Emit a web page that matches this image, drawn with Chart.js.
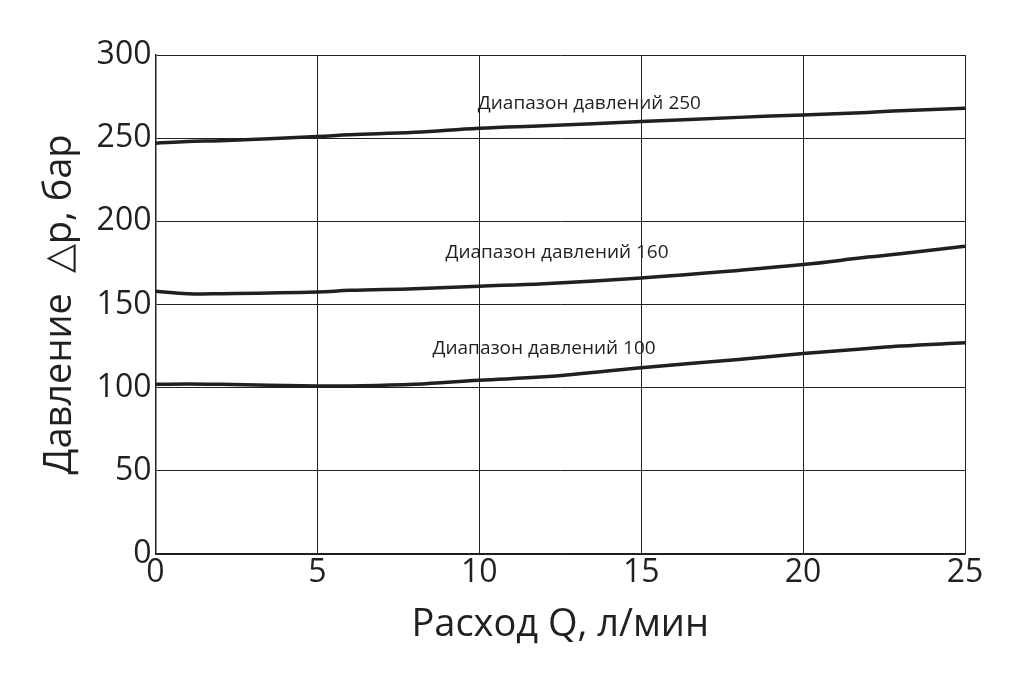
<!DOCTYPE html>
<html><head><meta charset="utf-8">
<script src="https://cdn.jsdelivr.net/npm/chart.js@4/dist/chart.umd.min.js"></script>
<style>html,body{margin:0;background:#fff}#wrap{width:1023px;height:682px}</style>
</head><body><div id="wrap"><canvas id="c"></canvas></div>
<script>
// values
var flowQ = [0, 1, 2, 5, 6, 8, 10, 12, 15, 18, 20, 22, 23, 25];
var range250 = [247, 248, 248.5, 251, 252, 253.5, 256, 257.5, 260, 262.5, 264, 265.5, 266.5, 268];
var range160 = [158, 156.5, 156.5, 157.5, 158.5, 159.5, 161, 162.5, 166, 170.5, 174, 178.5, 180.5, 185];
var range100 = [102, 102.2, 102, 101, 101, 102, 104.5, 106.5, 112, 117, 120.5, 123.5, 125, 127];
var curveLabels = ['Диапазон давлений 250', 'Диапазон давлений 160', 'Диапазон давлений 100'];
var labelPos = [[13.4, 271], [12.4, 181], [12.0, 123.5]];

var ink = '#231f20';
var mk = function (ys) { return ys.map(function (y, i) { return {x: flowQ[i], y: y}; }); };
var ds = function (ys) {
  return {data: mk(ys), borderColor: ink, borderWidth: 3.5, pointRadius: 0, tension: 0.4, fill: false};
};

var labelPlugin = {
  id: 'curveLabels',
  afterDatasetsDraw: function (chart) {
    var ctx = chart.ctx, sx = chart.scales.x, sy = chart.scales.y;
    ctx.save();
    ctx.fillStyle = ink;
    ctx.font = '19px "Open Sans"';
    ctx.textAlign = 'center';
    ctx.textBaseline = 'middle';
    curveLabels.forEach(function (t, i) {
      ctx.fillText(t, sx.getPixelForValue(labelPos[i][0]), sy.getPixelForValue(labelPos[i][1]));
    });
    ctx.restore();
  }
};

new Chart(document.getElementById('c'), {
  type: 'line',
  data: {datasets: [ds(range250), ds(range160), ds(range100)]},
  options: {
    responsive: true, maintainAspectRatio: false, animation: false,
    layout: {padding: {top: 55, right: 58, left: 33, bottom: 30}},
    plugins: {legend: {display: false}, tooltip: {enabled: false}},
    scales: {
      x: {
        type: 'linear', min: 0, max: 25,
        ticks: {stepSize: 5, color: ink, font: {size: 32, family: 'Open Sans'}, padding: 0},
        grid: {color: ink, lineWidth: 1, drawTicks: false},
        border: {color: ink, width: 1.5},
        title: {display: true, text: 'Расход Q, л/мин', color: ink, font: {size: 38, family: 'Open Sans'}, padding: {top: 10}}
      },
      y: {
        min: 0, max: 300,
        ticks: {stepSize: 50, color: ink, font: {size: 32, family: 'Open Sans'}, padding: 4},
        grid: {color: ink, lineWidth: 1, drawTicks: false},
        border: {color: ink, width: 1.5},
        title: {display: true, text: 'Давление  △p, бар', color: ink, font: {size: 38, family: 'Open Sans'}, padding: {bottom: 10}}
      }
    }
  },
  plugins: [labelPlugin]
});
</script>
</body></html>
